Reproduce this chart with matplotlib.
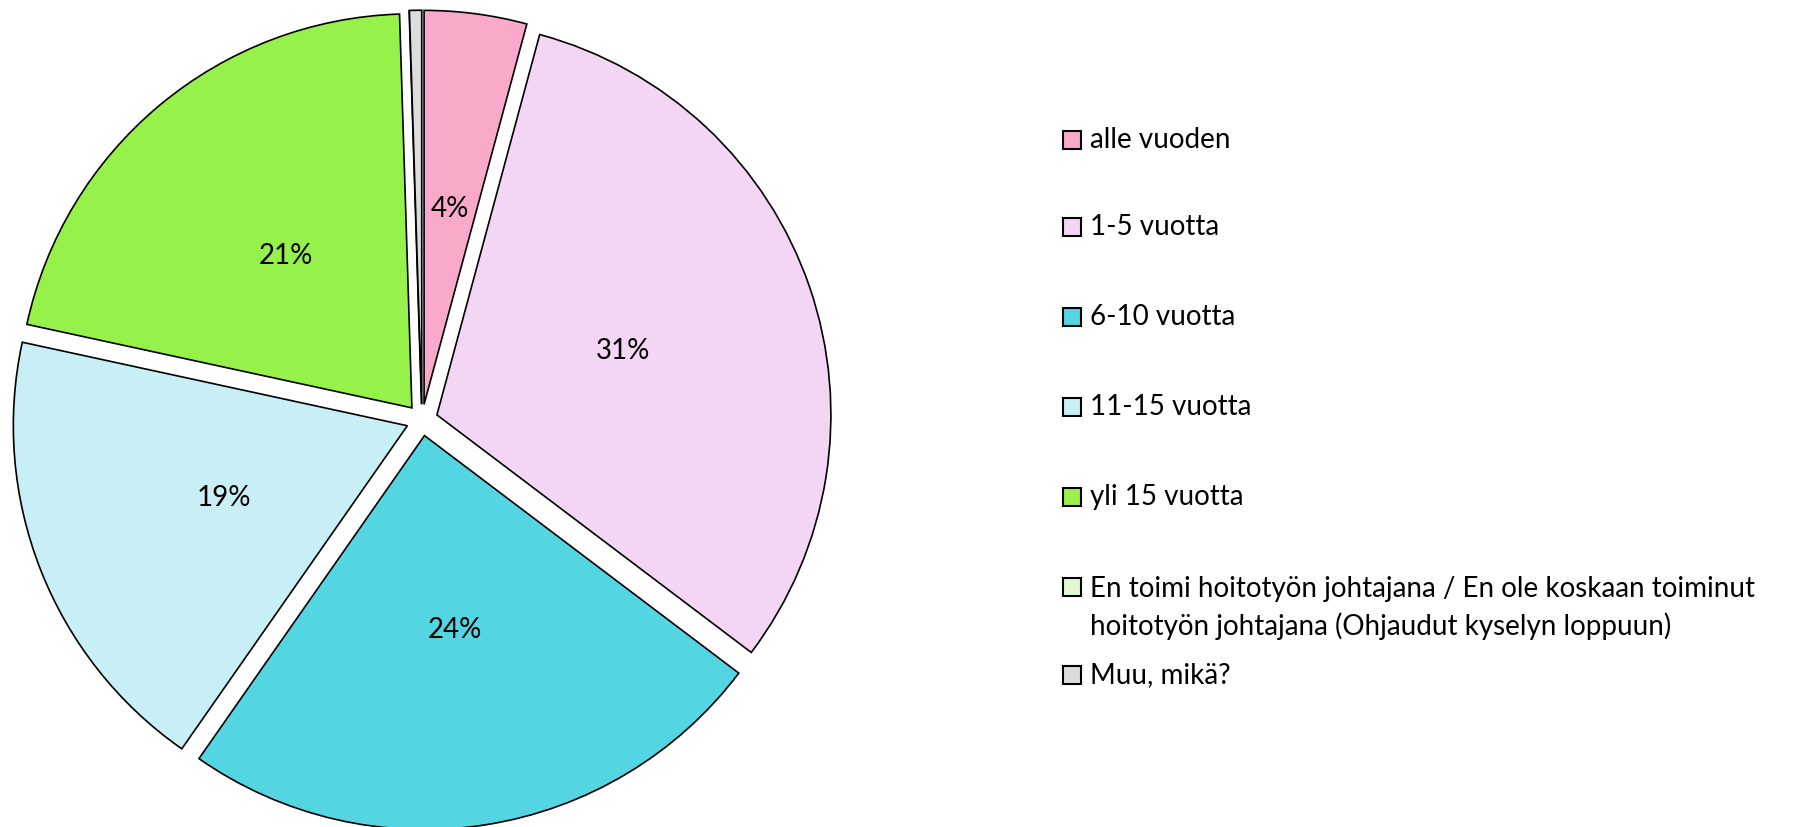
import matplotlib
matplotlib.use("Agg")
import matplotlib.pyplot as plt
from matplotlib.patches import Rectangle

categories = ["alle vuoden", "1-5 vuotta", "6-10 vuotta", "11-15 vuotta", "yli 15 vuotta",
              "En toimi hoitotyön johtajana / En ole koskaan toiminut\nhoitotyön johtajana (Ohjaudut kyselyn loppuun)",
              "Muu, mikä?"]
values = [4.2, 31.1, 24.4, 18.7, 21.1, 0.0, 0.5]
colors = ["#F9AACB", "#F2D6F3", "#54D6E2", "#C7EFF5", "#96F14B", "#E3F8D2", "#DCDCDC"]

plt.rcParams['font.family'] = ['Lato', 'DejaVu Sans']

W, H = 1806, 827
fig = plt.figure(figsize=(W / 100, H / 100), dpi=100)

cx, cy_top, R = 422, 420, 394
side = H
ax = fig.add_axes([(cx - side / 2) / W, 0, side / W, 1])
cy = H - cy_top
half = side / 2 / R

def fmt(p):
    return f"{p:.0f}%" if p >= 1 else ""

ax.pie(values, colors=colors, startangle=90, counterclock=False,
       explode=[0.04] * len(values), autopct=fmt, pctdistance=0.5,
       wedgeprops=dict(edgecolor='black', linewidth=1.2),
       textprops=dict(fontsize=20, color='black'))
ax.set_xlim(-half, half)
ax.set_ylim(-cy / R, (H - cy) / R)
ax.set_aspect('equal')
ax.axis('off')

# legend
ys = [140, 227, 317, 407, 497, 608, 675]
for lab, col, y in zip(categories, colors, ys):
    lines = lab.split("\n")
    y0 = y if len(lines) == 1 else y - 21
    fig.add_artist(Rectangle(((1063) / W, (H - y0 - 9) / H), 18 / W, 18 / H,
                             transform=fig.transFigure, facecolor=col,
                             edgecolor='black', linewidth=1.5))
    fig.text(1090 / W, (H - y) / H, lab, fontsize=20, va='center', ha='left',
             linespacing=1.45)

fig.savefig("out.png", dpi=100)
